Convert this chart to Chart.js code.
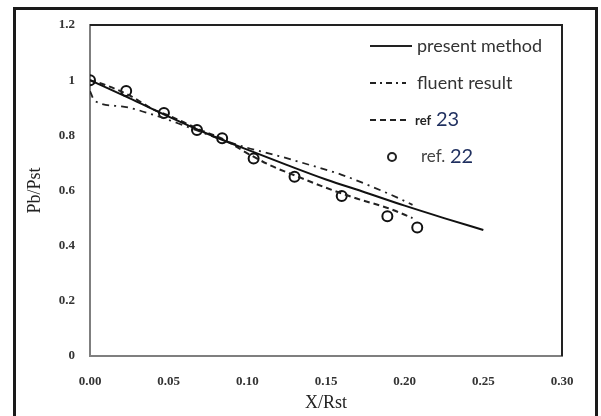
<!DOCTYPE html>
<html>
<head>
<meta charset="utf-8">
<script src="https://cdn.jsdelivr.net/npm/chart.js@4/dist/chart.umd.min.js"></script>
<style>
  html, body { margin: 0; padding: 0; background: #fff; }
  #wrap { width: 601px; height: 416px; }
</style>
</head>
<body>
<div id="wrap"><canvas id="chart" width="601" height="416"></canvas></div>
<script>
// present method (solid line)
const presentX = [0, 0.025, 0.05, 0.075, 0.1, 0.125, 0.15, 0.175, 0.2, 0.225, 0.25]
const presentY = [1.0, 0.935, 0.868, 0.805, 0.748, 0.693, 0.640, 0.593, 0.545, 0.500, 0.457]

// fluent result (dash-dot)
const fluentX = [0, 0.003, 0.02, 0.04, 0.06, 0.08, 0.1, 0.12, 0.14, 0.16, 0.18, 0.195, 0.205]
const fluentY = [0.96, 0.925, 0.905, 0.875, 0.835, 0.792, 0.755, 0.725, 0.692, 0.657, 0.612, 0.575, 0.548]

// ref 23 (dashed)
const ref23X = [0, 0.01, 0.025, 0.04, 0.05, 0.07, 0.085, 0.1, 0.115, 0.13, 0.15, 0.17, 0.19, 0.205]
const ref23Y = [1.0, 0.982, 0.945, 0.895, 0.872, 0.82, 0.785, 0.735, 0.69, 0.655, 0.61, 0.57, 0.535, 0.50]

// ref. 22 (circles)
const ref22X = [0, 0.023, 0.047, 0.068, 0.084, 0.104, 0.130, 0.160, 0.189, 0.208]
const ref22Y = [1.0, 0.961, 0.881, 0.819, 0.789, 0.716, 0.650, 0.580, 0.507, 0.466]

const xTicks = [0, 0.05, 0.1, 0.15, 0.2, 0.25, 0.3]
const yTicks = [0, 0.2, 0.4, 0.6, 0.8, 1, 1.2]

function pts(xs, ys) {
    return xs.map((x, i) => ({x: x, y: ys[i]}))
}

// frame around the figure, box on top/right, and the legend inside the plot
const extras = {
    id: 'extras',
    afterDraw(chart) {
        const ctx = chart.ctx
        const a = chart.chartArea
        ctx.save()
        // plot box top + right
        ctx.strokeStyle = '#222'
        ctx.lineWidth = 2
        ctx.beginPath()
        ctx.moveTo(a.left, a.top)
        ctx.lineTo(a.right, a.top)
        ctx.lineTo(a.right, a.bottom)
        ctx.stroke()
        // outer frame
        ctx.strokeStyle = '#1a1a1a'
        ctx.lineWidth = 3
        ctx.strokeRect(14.5, 8.5, 582, 420)

        // legend
        const lx = 370, tx = 417
        const rows = [46, 83, 120, 157]
        ctx.strokeStyle = '#222'
        ctx.lineWidth = 2
        ctx.setLineDash([])
        ctx.beginPath(); ctx.moveTo(lx, rows[0]); ctx.lineTo(412, rows[0]); ctx.stroke()
        ctx.lineWidth = 1.8
        ctx.setLineDash([6, 4, 2, 4])
        ctx.beginPath(); ctx.moveTo(lx, rows[1]); ctx.lineTo(406, rows[1]); ctx.stroke()
        ctx.setLineDash([6, 4])
        ctx.beginPath(); ctx.moveTo(lx, rows[2]); ctx.lineTo(406, rows[2]); ctx.stroke()
        ctx.setLineDash([])
        ctx.lineWidth = 2
        ctx.beginPath(); ctx.arc(392, rows[3], 4, 0, Math.PI * 2); ctx.stroke()

        ctx.textBaseline = 'middle'
        ctx.textAlign = 'left'
        ctx.fillStyle = '#333'
        ctx.font = '18px Lato, sans-serif'
        ctx.fillText('present method', tx, rows[0])
        ctx.fillText('fluent result', tx, rows[1])
        ctx.font = 'bold 13px Lato, sans-serif'
        ctx.fillStyle = '#222'
        ctx.fillText('ref', 415, rows[2] + 1)
        ctx.font = '20px Lato, sans-serif'
        ctx.fillStyle = '#1f2f5f'
        ctx.fillText('23', 436, rows[2])
        ctx.font = '17px Lato, sans-serif'
        ctx.fillStyle = '#444'
        ctx.fillText('ref.', 421, rows[3])
        ctx.font = '20px Lato, sans-serif'
        ctx.fillStyle = '#1f2f5f'
        ctx.fillText('22', 450, rows[3])
        ctx.restore()
    }
}

const ctx = document.getElementById('chart').getContext('2d')
const myChart = new Chart(ctx, {
    type: 'scatter',
    data: {
        datasets: [
            {
                label: 'present method',
                data: pts(presentX, presentY),
                showLine: true,
                borderColor: '#111',
                borderWidth: 2,
                pointRadius: 0,
                cubicInterpolationMode: 'monotone'
            },
            {
                label: 'fluent result',
                data: pts(fluentX, fluentY),
                showLine: true,
                borderColor: '#222',
                borderWidth: 1.8,
                borderDash: [7, 5, 2, 5],
                pointRadius: 0,
                cubicInterpolationMode: 'monotone'
            },
            {
                label: 'ref 23',
                data: pts(ref23X, ref23Y),
                showLine: true,
                borderColor: '#222',
                borderWidth: 2,
                borderDash: [6, 4],
                pointRadius: 0,
                cubicInterpolationMode: 'monotone'
            },
            {
                label: 'ref. 22',
                data: pts(ref22X, ref22Y),
                showLine: false,
                borderColor: '#111',
                backgroundColor: 'rgba(255,255,255,0)',
                borderWidth: 2,
                pointRadius: 5
            }
        ]
    },
    options: {
        responsive: false,
        animation: false,
        layout: {padding: {left: 0, right: 39, top: 25, bottom: 0}},
        plugins: {
            legend: {display: false},
            tooltip: {enabled: false}
        },
        scales: {
            x: {
                type: 'linear',
                min: 0,
                max: 0.3,
                afterBuildTicks: s => { s.ticks = xTicks.map(v => ({value: v})) },
                afterFit: s => { s.height = 60 },
                grid: {display: false, drawTicks: true, tickLength: 5, tickColor: '#888'},
                border: {display: true, color: '#7f7f7f', width: 2},
                ticks: {
                    padding: 13,
                    color: '#333',
                    font: {family: '"Liberation Serif", serif', size: 13, weight: 'bold'},
                    callback: v => v.toFixed(2)
                },
                title: {
                    display: true,
                    text: 'X/Rst',
                    color: '#222',
                    padding: {top: 0, bottom: 2},
                    font: {family: '"Liberation Serif", serif', size: 18}
                }
            },
            y: {
                type: 'linear',
                min: 0,
                max: 1.2,
                afterBuildTicks: s => { s.ticks = yTicks.map(v => ({value: v})) },
                afterFit: s => { s.width = 90 },
                grid: {display: false, drawTicks: true, tickLength: 5, tickColor: '#888'},
                border: {display: true, color: '#7f7f7f', width: 2},
                ticks: {
                    padding: 10,
                    color: '#333',
                    font: {family: '"Liberation Serif", serif', size: 13, weight: 'bold'},
                    callback: v => String(+v.toFixed(1))
                },
                title: {
                    display: true,
                    text: 'Pb/Pst',
                    color: '#222',
                    padding: {top: 24, bottom: 0},
                    font: {family: '"Liberation Serif", serif', size: 18}
                }
            }
        }
    },
    plugins: [extras]
})
</script>
</body>
</html>
